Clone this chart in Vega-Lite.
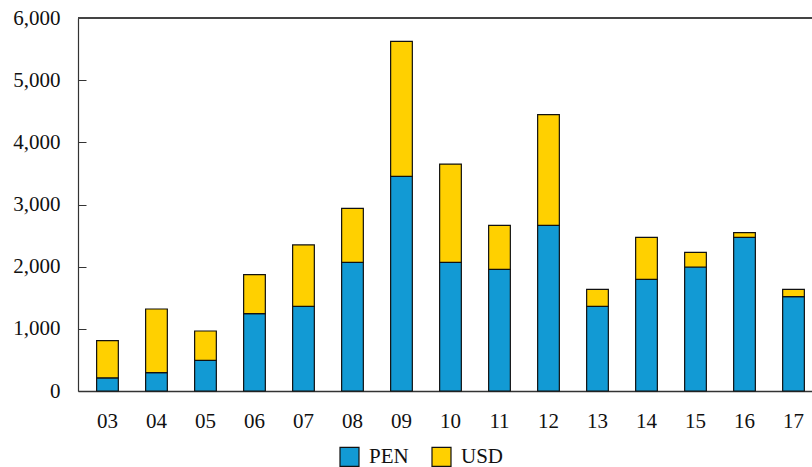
{
  "$schema": "https://vega.github.io/schema/vega-lite/v6.json",
  "width": 734,
  "height": 373,
  "autosize": "none",
  "padding": {"left": 78, "top": 18, "right": 0, "bottom": 76},
  "background": "white",
  "config": {
    "view": {"stroke": null},
    "font": "Liberation Serif",
    "axis": {"labelFont": "Liberation Serif", "labelFontSize": 21, "labelColor": "#111", "domainColor": "#333", "tickColor": "#333", "title": null, "grid": false},
    "legend": {"labelFont": "Liberation Serif", "labelFontSize": 21, "labelColor": "#111"}
  },
  "data": {"values": [
    {"year": "03", "currency": "PEN", "value": 212}, {"year": "03", "currency": "USD", "value": 597},
    {"year": "04", "currency": "PEN", "value": 294}, {"year": "04", "currency": "USD", "value": 1025},
    {"year": "05", "currency": "PEN", "value": 494}, {"year": "05", "currency": "USD", "value": 471},
    {"year": "06", "currency": "PEN", "value": 1244}, {"year": "06", "currency": "USD", "value": 627},
    {"year": "07", "currency": "PEN", "value": 1362}, {"year": "07", "currency": "USD", "value": 987},
    {"year": "08", "currency": "PEN", "value": 2070}, {"year": "08", "currency": "USD", "value": 868},
    {"year": "09", "currency": "PEN", "value": 3453}, {"year": "09", "currency": "USD", "value": 2172},
    {"year": "10", "currency": "PEN", "value": 2070}, {"year": "10", "currency": "USD", "value": 1581},
    {"year": "11", "currency": "PEN", "value": 1957}, {"year": "11", "currency": "USD", "value": 708},
    {"year": "12", "currency": "PEN", "value": 2665}, {"year": "12", "currency": "USD", "value": 1780},
    {"year": "13", "currency": "PEN", "value": 1362}, {"year": "13", "currency": "USD", "value": 274},
    {"year": "14", "currency": "PEN", "value": 1797}, {"year": "14", "currency": "USD", "value": 675},
    {"year": "15", "currency": "PEN", "value": 1995}, {"year": "15", "currency": "USD", "value": 236},
    {"year": "16", "currency": "PEN", "value": 2472}, {"year": "16", "currency": "USD", "value": 74},
    {"year": "17", "currency": "PEN", "value": 1517}, {"year": "17", "currency": "USD", "value": 119}
  ]},
  "layer": [
    {
      "mark": {"type": "bar", "stroke": "#111", "strokeWidth": 1.2},
      "encoding": {
        "x": {"field": "year", "type": "ordinal",
          "scale": {"paddingInner": 0.557, "paddingOuter": 0.268, "align": 0.709},
          "axis": {"labelAngle": 0, "ticks": false, "labelPadding": 19, "domainWidth": 1.5}},
        "y": {"field": "value", "type": "quantitative", "stack": "zero",
          "scale": {"domain": [0, 6000], "nice": false},
          "axis": {"values": [0, 1000, 2000, 3000, 4000, 5000, 6000], "format": ",.0f", "tickSize": -8, "labelPadding": 26, "domainWidth": 1.2}},
        "color": {"field": "currency", "type": "nominal",
          "scale": {"domain": ["PEN", "USD"], "range": ["#129ad4", "#ffd000"]},
          "legend": {"title": null, "orient": "none", "direction": "horizontal", "legendX": 261, "legendY": 428,
            "padding": 0, "symbolType": "square", "symbolSize": 361, "symbolStrokeColor": "#111", "symbolStrokeWidth": 1.2,
            "symbolOpacity": 1, "labelOffset": 9, "columnPadding": 20}},
        "order": {"field": "currency", "sort": "ascending"}
      }
    },
    {
      "mark": {"type": "rule", "color": "#444", "strokeWidth": 2},
      "encoding": {"y": {"datum": 6000}}
    }
  ]
}
